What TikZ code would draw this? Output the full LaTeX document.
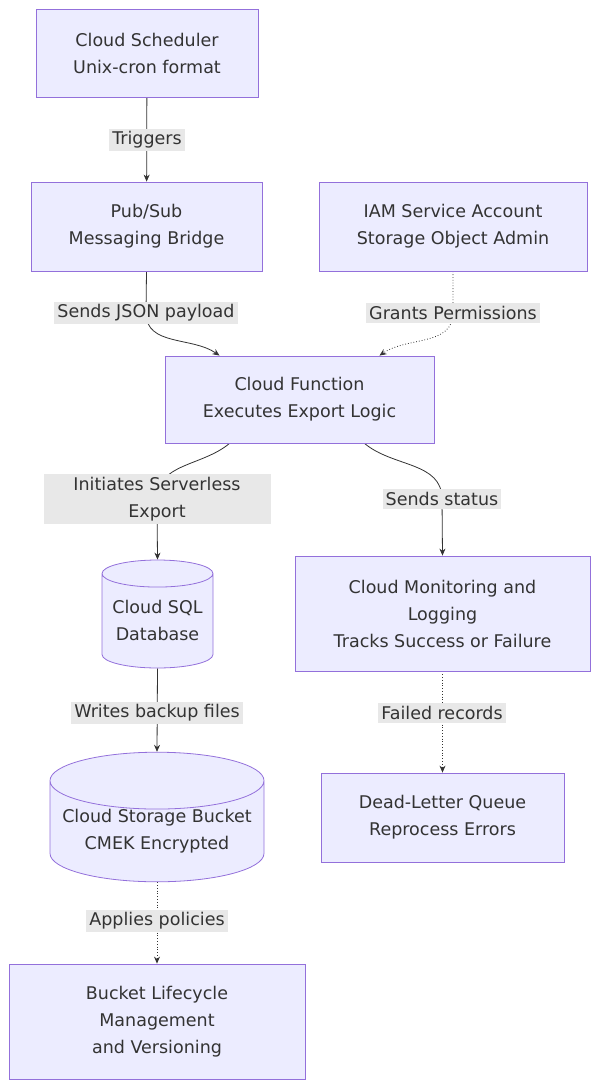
\documentclass[tikz,border=0pt]{standalone}
\usepackage{fontspec}
\setmainfont{DejaVu Sans}
\usetikzlibrary{arrows.meta, positioning, shapes.geometric, backgrounds}
\definecolor{boxfill}{HTML}{ECECFF}
\definecolor{boxline}{HTML}{9370DB}
\definecolor{ink}{HTML}{333333}
\definecolor{lblfill}{HTML}{E8E8E8}
\tikzset{
  box/.style = {draw=boxline, fill=boxfill, text=ink, align=center, line width=0.8pt,
                font=\fontsize{17.5}{27}\selectfont, inner sep=0pt},
  db/.style = {box, cylinder, shape border rotate=90, aspect=0.3, anchor=shape center},
  lbl/.style = {fill=lblfill, text=ink, align=center, inner sep=3pt,
                font=\fontsize{17.5}{27}\selectfont},
  flow/.style = {-{Stealth[length=7pt,width=6pt]}, draw=ink, line width=0.8pt},
  perm/.style = {flow, dotted}
}
\begin{document}
\begin{tikzpicture}[x=1pt, y=-1pt]
    \useasboundingbox (0,0) rectangle (600,1090);

    \node (sched) [box, minimum width=222pt, minimum height=88pt] at (147,53) {Cloud Scheduler\\Unix-cron format};
    \node (pubsub) [box, minimum width=231pt, minimum height=89pt] at (146.5,226.5) {Pub/Sub\\Messaging Bridge};
    \node (iam) [box, minimum width=268pt, minimum height=89pt] at (453,226.5) {IAM Service Account\\Storage Object Admin};
    \node (func) [box, minimum width=269pt, minimum height=87pt] at (299.5,399.5) {Cloud Function\\Executes Export Logic};
    \node (sql) [db, minimum width=111pt, minimum height=108pt] at (157.5,614) {Cloud SQL\\Database};
    \node (mon) [box, minimum width=295pt, minimum height=115pt] at (442.5,613.5) {Cloud Monitoring and\\Logging\\Tracks Success or Failure};
    \node (gcs) [db, minimum width=214pt, minimum height=121pt] at (157,817) {Cloud Storage Bucket\\CMEK Encrypted};
    \node (dlq) [box, minimum width=243pt, minimum height=89pt] at (442.5,817.5) {Dead-Letter Queue\\Reprocess Errors};
    \node (life) [box, minimum width=296pt, minimum height=115pt] at (157,1021.5) {Bucket Lifecycle\\Management\\and Versioning};

    \node (trig) [lbl] at (147,140) {Triggers};
    \node (json) [lbl] at (146,313) {Sends JSON payload};
    \node (grant) [lbl] at (453,313) {Grants Permissions};
    \node (init) [lbl, minimum width=227pt] at (157,499) {Initiates Serverless\\Export};
    \node (stat) [lbl] at (442,499) {Sends status};
    \node (write) [lbl] at (157,713) {Writes backup files};
    \node (fail) [lbl] at (442,713) {Failed records};
    \node (pol) [lbl] at (157,921) {Applies policies};

    \begin{scope}[on background layer]
        \draw [flow] (sched) -- (pubsub);
        \draw [flow] (pubsub.south) -- (json.center) to[out=-90, in=145] ([xshift=-80pt]func.north);
        \draw [perm] (iam.south) -- (grant.center) to[out=-90, in=35] ([xshift=80pt]func.north);
        \draw [flow] ([xshift=-70pt]func.south) to[out=-140, in=90] (init.center) -- (sql.north);
        \draw [flow] ([xshift=65pt]func.south) to[out=-40, in=90] (stat.center) -- (mon.north);
        \draw [flow] (sql.south) -- (gcs.north);
        \draw [perm] (mon) -- (dlq);
        \draw [perm] (gcs.south) -- (life.north);
    \end{scope}
\end{tikzpicture}
\end{document}
